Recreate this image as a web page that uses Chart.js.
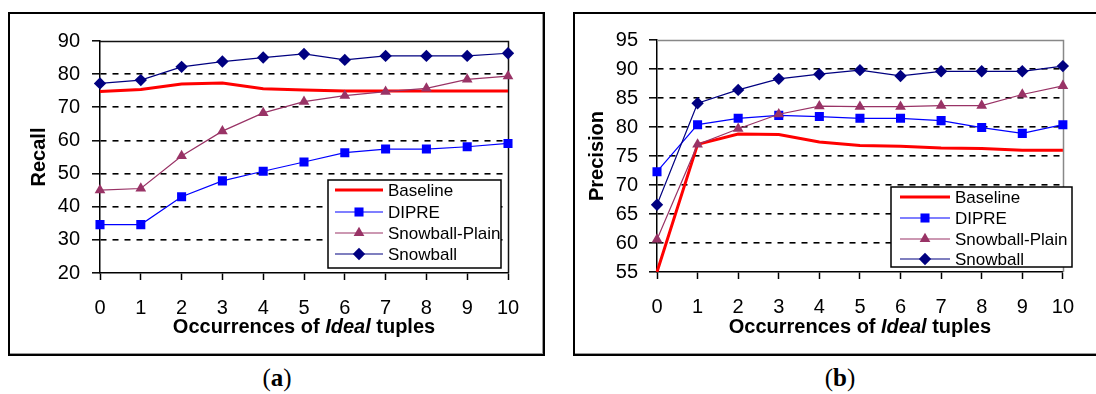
<!DOCTYPE html>
<html>
<head>
<meta charset="utf-8">
<script src="https://cdn.jsdelivr.net/npm/chart.js@4.4.1/dist/chart.umd.min.js"></script>
<style>
  body { margin: 0; background: #fff; width: 1096px; height: 394px; overflow: hidden; position: relative; }
  .panel { position: absolute; top: 12px; height: 344px; box-sizing: border-box; border: 2px solid #000; box-shadow: inset -1px -1px 0 #999; }
  #pa { left: 8px; width: 537px; }
  #pb { left: 573px; width: 537px; }
  canvas { position: absolute; }
  #recall { left: 9px; top: 13px; }
  #precision { left: 574px; top: 13px; }
  .cap { position: absolute; top: 363px; width: 60px; text-align: center; font: 25px "Liberation Serif", serif; line-height: 30px; }
</style>
</head>
<body>
<div class="panel" id="pa"></div>
<div class="panel" id="pb"></div>
<canvas id="recall" width="535" height="342"></canvas>
<canvas id="precision" width="516" height="342"></canvas>
<div class="cap" style="left:247px">(<b>a</b>)</div>
<div class="cap" style="left:810px">(<b>b</b>)</div>
<script>
const FONT = '"Liberation Sans", Arial, sans-serif';

// data
const X_LABELS = ["0", "1", "2", "3", "4", "5", "6", "7", "8", "9", "10"];
const SERIES = ["Baseline", "DIPRE", "Snowball-Plain", "Snowball"];
const X_TITLE_PARTS = ["Occurrences of ", "Ideal", " tuples"];

const RECALL_BASELINE = [74.8, 75.4, 77.0, 77.3, 75.6, 75.2, 74.9, 74.9, 74.9, 74.9, 74.9];
const RECALL_DIPRE = [34.6, 34.6, 43.0, 47.8, 50.7, 53.5, 56.3, 57.4, 57.4, 58.1, 59.1];
const RECALL_PLAIN = [45.0, 45.5, 55.3, 62.8, 68.3, 71.7, 73.5, 74.7, 75.7, 78.4, 79.4];
const RECALL_SNOWBALL = [77.2, 78.2, 82.2, 83.8, 85.0, 86.1, 84.3, 85.5, 85.5, 85.5, 86.3];

const PREC_BASELINE = [55.0, 77.0, 78.8, 78.7, 77.4, 76.8, 76.7, 76.4, 76.3, 76.0, 76.0];
const PREC_DIPRE = [72.3, 80.4, 81.5, 82.0, 81.8, 81.5, 81.5, 81.1, 79.9, 78.9, 80.4];
const PREC_PLAIN = [60.6, 77.0, 79.7, 82.2, 83.6, 83.5, 83.5, 83.7, 83.7, 85.6, 87.1];
const PREC_SNOWBALL = [66.6, 84.1, 86.4, 88.3, 89.1, 89.8, 88.8, 89.6, 89.6, 89.6, 90.5];

const COLORS = ["#FF0000", "#0000FF", "#993366", "#000080"];
const STYLES = [false, "rect", "triangle", "rectRot"];

Chart.defaults.font.family = FONT;
Chart.defaults.color = "#000";

function drawMarker(ctx, style, x, y, r, color) {
  ctx.fillStyle = color;
  ctx.beginPath();
  if (style === "rect") {
    const s = Math.SQRT1_2 * r;
    ctx.rect(x - s, y - s, 2 * s, 2 * s);
  } else if (style === "triangle") {
    ctx.moveTo(x, y - r);
    ctx.lineTo(x + r * 0.866, y + r / 2);
    ctx.lineTo(x - r * 0.866, y + r / 2);
    ctx.closePath();
  } else if (style === "rectRot") {
    ctx.moveTo(x, y - r);
    ctx.lineTo(x + r, y);
    ctx.lineTo(x, y + r);
    ctx.lineTo(x - r, y);
    ctx.closePath();
  }
  ctx.fill();
}

// top and right edge of the plot
const plotFrame = {
  id: "plotFrame",
  beforeDatasetsDraw(chart, args, opts) {
    const { ctx, chartArea: a } = chart;
    ctx.save();
    ctx.strokeStyle = opts.color;
    ctx.lineWidth = 1.5;
    ctx.beginPath();
    ctx.moveTo(a.left, Math.round(a.top) + 0.5);
    ctx.lineTo(Math.round(a.right) + 0.5, Math.round(a.top) + 0.5);
    ctx.lineTo(Math.round(a.right) + 0.5, a.bottom);
    ctx.stroke();
    ctx.restore();
  },
};

// x title with the italic word
const xTitle = {
  id: "xTitle",
  afterDraw(chart, args, opts) {
    const { ctx, chartArea: a } = chart;
    ctx.save();
    ctx.fillStyle = "#000";
    ctx.textBaseline = "middle";
    const fonts = X_TITLE_PARTS.map((p, i) => (i === 1 ? "italic bold 20px " : "bold 20px ") + FONT);
    const widths = X_TITLE_PARTS.map((p, i) => {
      ctx.font = fonts[i];
      return ctx.measureText(p).width;
    });
    let x = (a.left + a.right) / 2 - widths.reduce((s, w) => s + w, 0) / 2;
    X_TITLE_PARTS.forEach((p, i) => {
      ctx.font = fonts[i];
      ctx.fillText(p, x, opts.y);
      x += widths[i];
    });
    ctx.restore();
  },
};

// legend box inside the plot
const boxLegend = {
  id: "boxLegend",
  afterDraw(chart, args, o) {
    const ctx = chart.ctx;
    ctx.save();
    ctx.fillStyle = "#fff";
    ctx.fillRect(o.x, o.y, o.w, o.h);
    ctx.strokeStyle = "#000";
    ctx.lineWidth = 1.5;
    ctx.strokeRect(o.x, o.y, o.w, o.h);
    chart.data.datasets.forEach((ds, i) => {
      const y = o.rows[i];
      ctx.strokeStyle = ds.borderColor;
      ctx.lineWidth = ds.borderWidth;
      ctx.beginPath();
      ctx.moveTo(o.x0, y);
      ctx.lineTo(o.x1, y);
      ctx.stroke();
      if (ds.pointStyle) drawMarker(ctx, ds.pointStyle, (o.x0 + o.x1) / 2, y, ds.pointRadius, ds.borderColor);
      ctx.fillStyle = "#000";
      ctx.font = "17px " + FONT;
      ctx.textBaseline = "middle";
      ctx.fillText(ds.label, o.tx, y + 1);
    });
    ctx.restore();
  },
};

function makeDatasets(values) {
  return values.map((v, i) => ({
    label: SERIES[i],
    data: v,
    borderColor: COLORS[i],
    backgroundColor: COLORS[i],
    pointBackgroundColor: COLORS[i],
    pointBorderColor: COLORS[i],
    borderWidth: i === 0 ? 3 : 1.2,
    pointStyle: STYLES[i],
    pointRadius: i === 0 ? 0 : (i === 1 ? 6.4 : 6.2),
    pointBorderWidth: 0,
    tension: 0,
    order: 4 - i,
  }));
}

function makeChart(id, cfg) {
  const ctx = document.getElementById(id).getContext("2d");
  return new Chart(ctx, {
    type: "line",
    data: { labels: X_LABELS, datasets: makeDatasets(cfg.values) },
    options: {
      responsive: false,
      animation: false,
      devicePixelRatio: 1,
      layout: { padding: { top: cfg.padTop, right: cfg.padRight, left: 0, bottom: 0 } },
      plugins: {
        legend: { display: false },
        tooltip: { enabled: false },
        plotFrame: { color: cfg.frameColor },
        xTitle: { y: 314 },
        boxLegend: cfg.legend,
      },
      scales: {
        x: {
          offset: false,
          grid: { drawOnChartArea: false, tickLength: 7, tickColor: "#000", tickWidth: 1.5 },
          border: { color: "#000", width: 1.5 },
          ticks: { font: { size: 20 }, padding: 16, maxRotation: 0, autoSkip: false },
          afterFit: (s) => { s.height = cfg.xHeight; },
        },
        y: {
          min: cfg.min,
          max: cfg.max,
          grid: {
            color: (c) => (c.tick && (c.tick.value === cfg.min || c.tick.value === cfg.max) ? "rgba(0,0,0,0)" : "#000"),
            tickColor: "#000",
            tickLength: 8,
            tickWidth: 1.5,
            lineWidth: 1.6,
          },
          border: { color: "#000", width: 1.5, dash: [6, 6] },
          ticks: { stepSize: cfg.step, font: { size: 20 }, padding: cfg.tickPad },
          title: { display: true, text: cfg.yTitle, font: { size: 20, weight: "bold" }, color: "#000", padding: { top: cfg.titlePad, bottom: 0 } },
          afterFit: (s) => { s.width = cfg.yWidth; },
        },
      },
    },
    plugins: [plotFrame, xTitle, boxLegend],
  });
}

makeChart("recall", {
  values: [RECALL_BASELINE, RECALL_DIPRE, RECALL_PLAIN, RECALL_SNOWBALL],
  min: 20, max: 90, step: 10,
  yTitle: "Recall",
  padTop: 28, padRight: 36, yWidth: 91, xHeight: 82,
  tickPad: 12, titlePad: 18,
  frameColor: "#111",
  legend: { x: 319, y: 167, w: 173, h: 88, x0: 326, x1: 374, tx: 379, rows: [177, 199, 220, 241] },
});

makeChart("precision", {
  values: [PREC_BASELINE, PREC_DIPRE, PREC_PLAIN, PREC_SNOWBALL],
  min: 55, max: 95, step: 5,
  yTitle: "Precision",
  padTop: 27, padRight: 14, yWidth: 83, xHeight: 83,
  tickPad: 11, titlePad: 11,
  frameColor: "#888",
  legend: { x: 317, y: 174, w: 181, h: 80, x0: 326, x1: 376, tx: 381, rows: [184, 205, 226, 246] },
});
</script>
</body>
</html>
